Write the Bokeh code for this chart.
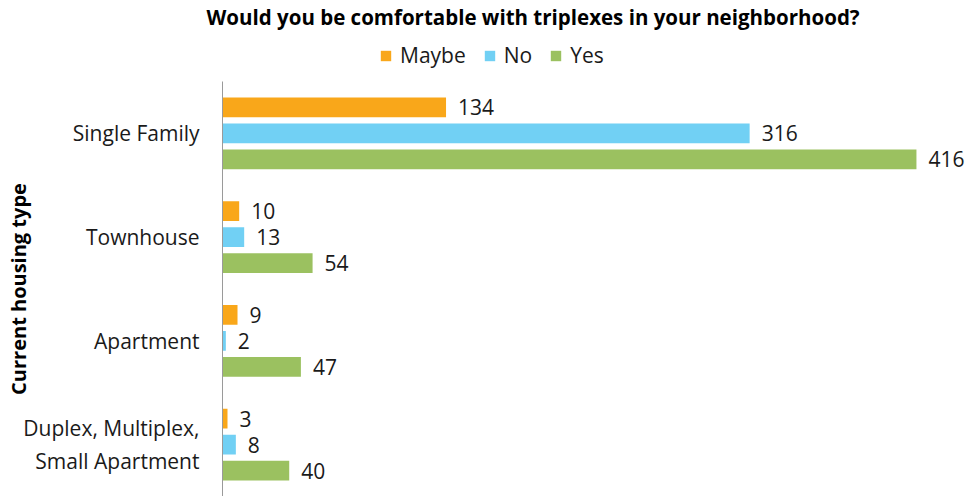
from bokeh.plotting import figure
from bokeh.models import FactorRange, Range1d, Legend, LegendItem, ColumnDataSource
from bokeh.core.properties import value
from bokeh.transform import dodge
from bokeh.layouts import column
from bokeh.embed import file_html
from bokeh.resources import INLINE

categories = ["Single Family", "Townhouse", "Apartment", "Duplex, Multiplex,\nSmall Apartment"]
series = ["Maybe", "No", "Yes"]
maybe = [134, 10, 9, 3]
no = [316, 13, 2, 8]
yes = [416, 54, 47, 40]
colors = ["#F9A71A", "#71D0F4", "#9BC160"]
title_text = "Would you be comfortable with triplexes in your neighborhood?"
axis_title = "Current housing type"

FONT = "Open Sans"
TXT = "#1a1a1a"

src = ColumnDataSource(dict(cat=categories, Maybe=maybe, No=no, Yes=yes,
                            Maybe_t=[str(v) for v in maybe],
                            No_t=[str(v) for v in no],
                            Yes_t=[str(v) for v in yes]))

# ---- header: title + legend (frame is aligned with the main chart's frame) ----
head = figure(width=975, height=81, output_backend="svg", toolbar_location=None,
              x_range=Range1d(0, 1), y_range=FactorRange(factors=categories[::-1]),
              x_axis_location=None, y_axis_location=None,
              min_border_left=0, min_border_right=0, min_border_bottom=0, min_border_top=0)
head.grid.visible = False
head.outline_line_color = None
head.title.text = title_text
head.title.text_font = FONT
head.title.text_font_size = "20.5px"
head.title.text_font_style = "bold"
head.title.text_color = "#000000"
head.title.align = "left"
head.title.offset = -16
head.title.standoff = 0

hrs = []
for s, c in zip(series, colors):
    hr = head.hbar(y="cat", right=s, left=0, height=0.19, source=src,
                   fill_color=c, line_color=None, visible=False)
    hrs.append(hr)

legend = Legend(items=[LegendItem(label=s, renderers=[r]) for s, r in zip(series, hrs)],
                orientation="horizontal", location=(157, 12),
                label_text_font=FONT, label_text_font_size="21px", label_text_color=TXT,
                glyph_width=13, glyph_height=13, spacing=17, padding=2, margin=0,
                label_standoff=8,
                border_line_color=None, background_fill_alpha=0)
head.add_layout(legend, "center")

# ---- main chart ----
p = figure(width=975, height=415, output_backend="svg", toolbar_location=None,
           y_range=FactorRange(factors=categories[::-1], range_padding=0),
           x_range=Range1d(0, 451.4),
           min_border_left=222, min_border_right=0, min_border_bottom=0, min_border_top=0)

offsets = [0.25, 0.0, -0.25]
for s, off, c in zip(series, offsets, colors):
    p.hbar(y=dodge("cat", off, range=p.y_range), right=s, left=0, height=0.19,
           source=src, fill_color=c, line_color=None)
    p.text(x=s, y=dodge("cat", off, range=p.y_range), text=s + "_t", source=src,
           x_offset=12, text_baseline="middle", text_align="left",
           text_font_size="21px", text_color=TXT, text_font=value(FONT))

p.xaxis.visible = False
p.xgrid.visible = False
p.ygrid.visible = False
p.outline_line_color = None

ax = p.yaxis[0]
ax.axis_label = axis_title
ax.axis_label_text_font = FONT
ax.axis_label_text_font_size = "20px"
ax.axis_label_text_font_style = "bold"
ax.axis_label_text_color = "#000000"
ax.axis_label_standoff = -12
ax.major_label_text_font = FONT
ax.major_label_text_font_size = "21px"
ax.major_label_text_color = TXT
ax.major_label_standoff = 23
ax.major_tick_out = 0
ax.major_tick_in = 0
ax.major_tick_line_color = None
ax.minor_tick_line_color = None
ax.axis_line_color = "#9a9a9a"
ax.axis_line_width = 1

layout = column(head, p, spacing=0)
open("out.html", "w").write(file_html(layout, INLINE))
